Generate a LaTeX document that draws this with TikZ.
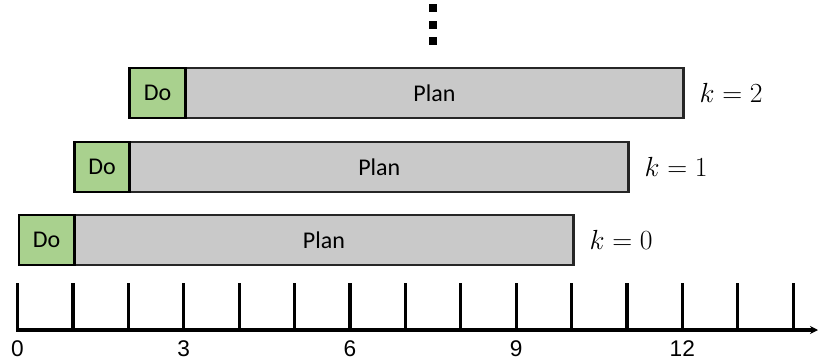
\documentclass[tikz,border=0pt]{standalone}
\usepackage{fontspec}
\setmainfont{Carlito}
\newfontfamily\axfont{Liberation Sans}
\usetikzlibrary{arrows.meta}
\definecolor{dogreen}{HTML}{A9D18E}
\definecolor{plangray}{HTML}{C9C9C9}
\tikzset{
  dobox/.style={draw=black, line width=2.2pt, fill=dogreen, font=\fontsize{18}{20}\selectfont},
  planbox/.style={draw=black!85, line width=2.2pt, fill=plangray, font=\fontsize{18}{20}\selectfont},
  klabel/.style={anchor=west, font=\fontsize{19.5}{21}\selectfont},
  ticklbl/.style={font=\axfont\fontsize{17}{19}\selectfont},
  tickline/.style={line width=2.4pt},
  dotsq/.style={fill=black, minimum size=5.5pt, inner sep=0pt}
}
\begin{document}
\begin{tikzpicture}[x=0.75pt,y=-0.75pt]
\useasboundingbox (0,0) rectangle (818,364);
% axis
\coordinate (a0) at (16,330);
\coordinate (aend) at (818,330);
\draw[line width=2.6pt, -{Stealth[length=6pt,width=6pt]}] (a0) -- (aend);
\foreach \i in {0,...,14} {
  \coordinate (t\i) at ({17.5+55.4*\i},283);
  \coordinate (b\i) at ({17.5+55.4*\i},330);
  \draw[tickline] (t\i) -- (b\i);
}
\foreach \i in {0,3,6,9,12} {
  \node[ticklbl] (l\i) at ({17.5+55.4*\i},349) {\i};
}
% rows
% k=0
\node[planbox, minimum width={(572-72.9)*0.75pt}, minimum height={50*0.75pt}, anchor=west] (p0) at (72.9,240) {Plan};
\node[dobox, minimum width={(72.9-17.5)*0.75pt}, minimum height={50*0.75pt}, anchor=west] (d0) at (17.5,240) {Do};
\node[klabel] (k0) at (585,240) {$k=0$};
% k=1
\node[planbox, minimum width={(627.4-128.3)*0.75pt}, minimum height={50*0.75pt}, anchor=west] (p1) at (128.3,167) {Plan};
\node[dobox, minimum width={(128.3-72.9)*0.75pt}, minimum height={50*0.75pt}, anchor=west] (d1) at (72.9,167) {Do};
\node[klabel] (k1) at (640,167) {$k=1$};
% k=2
\node[planbox, minimum width={(682.3-183.7)*0.75pt}, minimum height={50*0.75pt}, anchor=west] (p2) at (183.7,93) {Plan};
\node[dobox, minimum width={(183.7-128.3)*0.75pt}, minimum height={50*0.75pt}, anchor=west] (d2) at (128.3,93) {Do};
\node[klabel] (k2) at (695,93) {$k=2$};
% vertical dots
\node[dotsq] (v1) at (433,8) {};
\node[dotsq] (v2) at (433,25) {};
\node[dotsq] (v3) at (433,41) {};
\end{tikzpicture}
\end{document}
